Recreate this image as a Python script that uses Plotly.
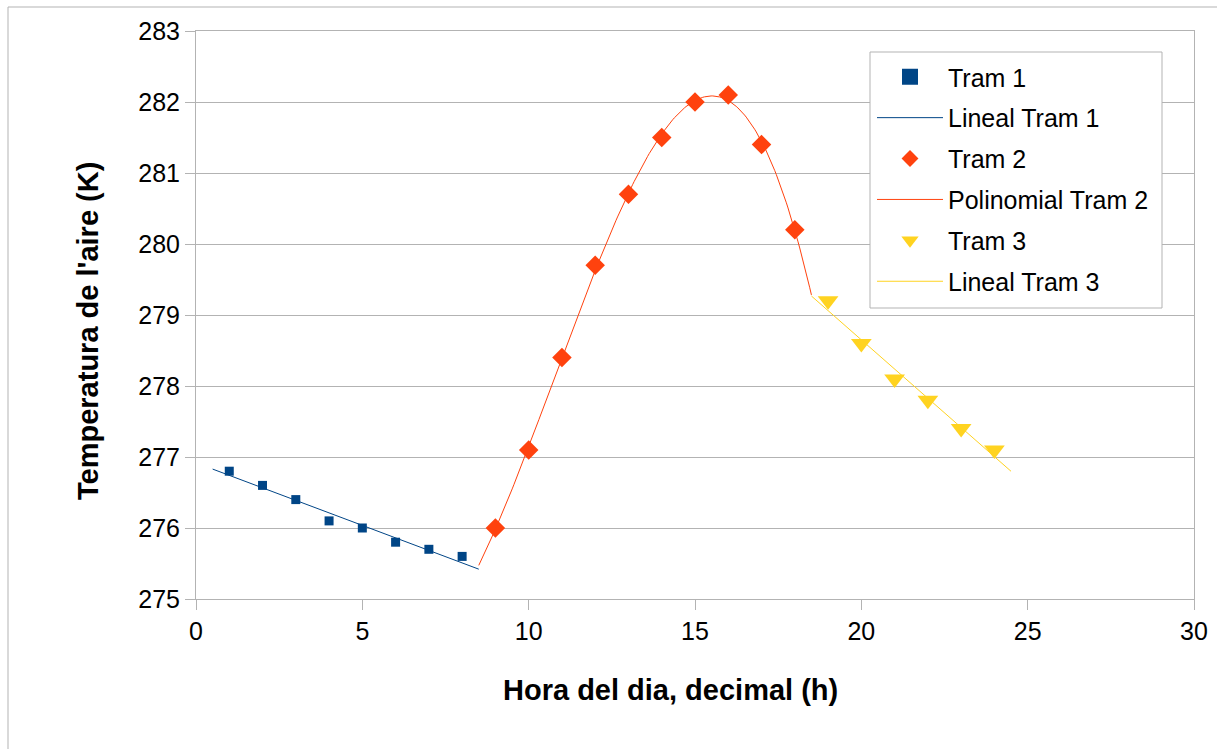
import numpy as np
import plotly.graph_objects as go

# ---- data ----
tram1_x = [1, 2, 3, 4, 5, 6, 7, 8]
tram1_y = [276.8, 276.6, 276.4, 276.1, 276.0, 275.8, 275.7, 275.6]
tram2_x = [9, 10, 11, 12, 13, 14, 15, 16, 17, 18]
tram2_y = [276.0, 277.1, 278.4, 279.7, 280.7, 281.5, 282.0, 282.1, 281.4, 280.2]
tram3_x = [19, 20, 21, 22, 23, 24]
tram3_y = [279.2, 278.6, 278.1, 277.8, 277.4, 277.1]

x_ticks = [0, 5, 10, 15, 20, 25, 30]
y_ticks = [275, 276, 277, 278, 279, 280, 281, 282, 283]

x_title = "Hora del dia, decimal (h)"
y_title = "Temperatura de l'aire (K)"

POLY_DEGREE = 4
EXT = 0.5  # trend line extension beyond data

C1 = "#004586"
C2 = "#ff420e"
C3 = "#ffd320"
GRID = "#b3b3b3"


def trend(xs, ys, deg):
    coef = np.polyfit(xs, ys, deg)
    xx = np.linspace(min(xs) - EXT, max(xs) + EXT, 200)
    return xx, np.polyval(coef, xx)


t1x, t1y = trend(tram1_x, tram1_y, 1)
t2x, t2y = trend(tram2_x, tram2_y, POLY_DEGREE)
t3x, t3y = trend(tram3_x, tram3_y, 1)

fig = go.Figure()
# plotted marks (legend shown through proxies below)
fig.add_trace(go.Scatter(x=tram1_x, y=tram1_y, mode="markers", showlegend=False,
                         marker=dict(symbol="square", size=9, color=C1, line=dict(width=0))))
fig.add_trace(go.Scatter(x=t1x, y=t1y, mode="lines", showlegend=False,
                         line=dict(color=C1, width=1)))
fig.add_trace(go.Scatter(x=tram2_x, y=tram2_y, mode="markers", showlegend=False,
                         marker=dict(symbol="diamond", size=15, color=C2, line=dict(width=0))))
fig.add_trace(go.Scatter(x=t2x, y=t2y, mode="lines", showlegend=False,
                         line=dict(color=C2, width=1)))
fig.add_trace(go.Scatter(x=tram3_x, y=tram3_y, mode="markers", showlegend=False,
                         marker=dict(symbol="triangle-down", size=18, color=C3, line=dict(width=0))))
fig.add_trace(go.Scatter(x=t3x, y=t3y, mode="lines", showlegend=False,
                         line=dict(color=C3, width=1)))

# legend entries
legend_items = [
    ("Tram 1", "markers", dict(symbol="square", size=16, color=C1, line=dict(width=0)), None),
    ("Lineal Tram 1", "lines", None, dict(color=C1, width=1)),
    ("Tram 2", "markers", dict(symbol="diamond", size=13, color=C2, line=dict(width=0)), None),
    ("Polinomial Tram 2", "lines", None, dict(color=C2, width=1)),
    ("Tram 3", "markers", dict(symbol="triangle-down", size=15, color=C3, line=dict(width=0)), None),
    ("Lineal Tram 3", "lines", None, dict(color=C3, width=1)),
]
for i, (nm, md, mk, ln) in enumerate(legend_items):
    kw = dict(x=[None], y=[None], mode=md, name=nm, legendgroup=f"g{i}")
    if mk:
        kw["marker"] = mk
    if ln:
        kw["line"] = ln
    fig.add_trace(go.Scatter(**kw))

L, R, T, B = 196, 23, 31, 150
W, H = 1217, 749
pw, ph = W - L - R, H - T - B


def px_x(p):
    return (p - L) / pw


def px_y(p):
    return 1 - (p - T) / ph


fig.update_layout(
    width=W, height=H,
    margin=dict(l=L, r=R, t=T, b=B, autoexpand=False),
    paper_bgcolor="white", plot_bgcolor="white",
    font=dict(family="Liberation Sans, Arial, sans-serif", color="#000000", size=25),
    showlegend=True,
    legend=dict(x=px_x(872), y=px_y(54), xanchor="left", yanchor="top",
                bgcolor="rgba(0,0,0,0)", borderwidth=0,
                font=dict(size=25), traceorder="grouped", tracegroupgap=5.4,
                itemwidth=66),
    xaxis=dict(range=[0, 30], tickvals=x_ticks, showgrid=False, zeroline=False, automargin=False,
               showline=True, linecolor=GRID, linewidth=1, mirror=True,
               ticks="outside", ticklen=10, tickcolor=GRID),
    yaxis=dict(range=[275, 283], tickvals=y_ticks, showgrid=True, gridcolor=GRID, zeroline=False,
               automargin=False,
               showline=True, linecolor=GRID, linewidth=1, mirror=True,
               ticks="outside", ticklen=10, tickcolor=GRID),
    annotations=[
        dict(text=f"<b>{x_title}</b>", xref="paper", yref="paper",
             x=px_x(670.5), y=px_y(690), xanchor="center", yanchor="middle",
             showarrow=False, font=dict(size=29)),
        dict(text=f"<b>{y_title}</b>", xref="paper", yref="paper", textangle=-90,
             x=px_x(88), y=px_y(331), xanchor="center", yanchor="middle",
             showarrow=False, font=dict(size=29)),
    ],
    shapes=[
        dict(type="rect", xref="paper", yref="paper",
             x0=px_x(8), x1=px_x(W + 5), y0=px_y(H + 5), y1=px_y(7),
             line=dict(color=GRID, width=1), fillcolor="rgba(0,0,0,0)", layer="below"),
        dict(type="rect", xref="paper", yref="paper",
             x0=px_x(870), x1=px_x(1162), y0=px_y(308), y1=px_y(52),
             line=dict(color=GRID, width=1), fillcolor="white", layer="above"),
    ],
)

fig.write_html("out.html")
